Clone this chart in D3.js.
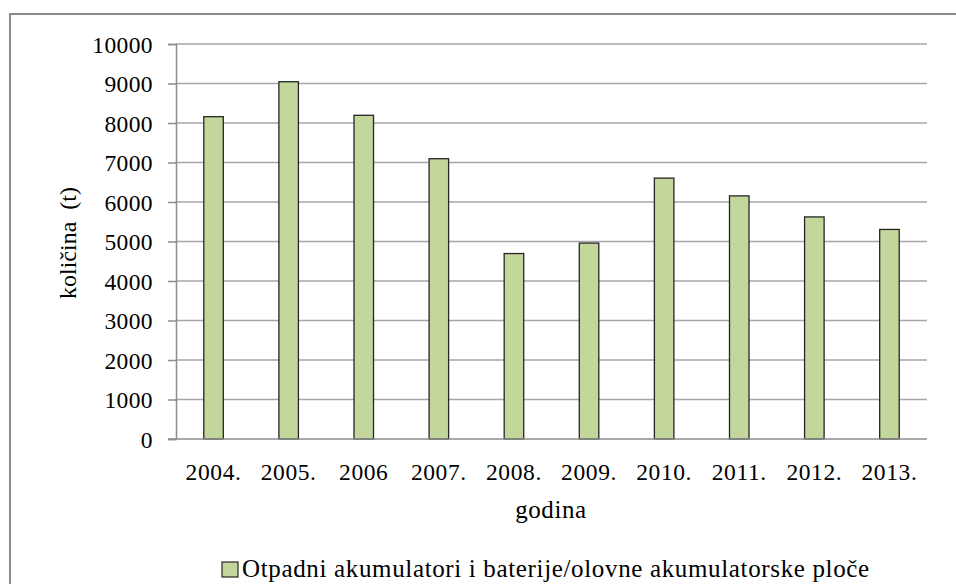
<!DOCTYPE html>
<html>
<head>
<meta charset="utf-8">
<script src="https://cdn.jsdelivr.net/npm/d3@7"></script>
<style>
  html, body { margin: 0; padding: 0; background: #fff; }
  svg { display: block; }
</style>
</head>
<body>
<script>
const years = ["2004.", "2005.", "2006", "2007.", "2008.", "2009.", "2010.", "2011.", "2012.", "2013."];
const values = [8160, 9045, 8195, 7096, 4695, 4960, 6605, 6155, 5622, 5305];
const yTicks = [0, 1000, 2000, 3000, 4000, 5000, 6000, 7000, 8000, 9000, 10000];
const seriesName = "Otpadni akumulatori i baterije/olovne akumulatorske ploče";
const yTitle = "količina  (t)";
const xTitle = "godina";

const FONT = '"Liberation Serif", "Times New Roman", serif';
const W = 956, H = 584;
const svg = d3.select("body").append("svg").attr("width", W).attr("height", H);

// outer chart border (cropped at right/bottom)
svg.append("rect")
  .attr("x", 10).attr("y", 14)
  .attr("width", W + 20).attr("height", H + 20)
  .attr("fill", "#fff").attr("stroke", "#8a8a8a").attr("stroke-width", 2);

const plot = { left: 176, right: 927, top: 44, bottom: 439 };

const x = d3.scaleBand().domain(years).range([plot.left, plot.right]).paddingInner(0.74).paddingOuter(0.37);
const y = d3.scaleLinear().domain([0, 10000]).range([plot.bottom, plot.top]);

// gridlines
svg.append("g").selectAll("line").data(yTicks.filter(d => d > 0)).join("line")
  .attr("x1", plot.left).attr("x2", plot.right)
  .attr("y1", d => y(d)).attr("y2", d => y(d))
  .attr("stroke", "#a6a6a6").attr("stroke-width", 1.5);

// y axis
const yAxis = svg.append("g").attr("transform", `translate(${plot.left},0)`)
  .call(d3.axisLeft(y).tickValues(yTicks).tickSize(8).tickPadding(15).tickFormat(d3.format("d")));
yAxis.select(".domain").attr("stroke", "#8c8c8c").attr("stroke-width", 1.5);
yAxis.selectAll(".tick line").attr("stroke", "#8c8c8c").attr("stroke-width", 1.5);
yAxis.selectAll(".tick text").style("font-size", "23.5px").style("font-family", FONT)
  .style("letter-spacing", "0.4px").attr("fill", "#000").attr("dy", "0.34em");

// bars
svg.append("g").selectAll("rect").data(values).join("rect")
  .attr("x", (d, i) => x(years[i]))
  .attr("width", x.bandwidth())
  .attr("y", d => y(d))
  .attr("height", d => y(0) - y(d))
  .attr("fill", "#c3d69b")
  .attr("stroke", "#262626").attr("stroke-width", 1.3);

// x axis line
svg.append("line")
  .attr("x1", plot.left - 8).attr("x2", plot.right)
  .attr("y1", y(0)).attr("y2", y(0))
  .attr("stroke", "#8c8c8c").attr("stroke-width", 1.5);

// x tick labels
const xAxis = svg.append("g").attr("transform", `translate(0,${plot.bottom})`)
  .call(d3.axisBottom(x).tickSize(0).tickPadding(0));
xAxis.select(".domain").remove();
xAxis.selectAll(".tick text").style("font-size", "23.5px").style("font-family", FONT)
  .style("letter-spacing", "0.6px").attr("fill", "#000").attr("y", 41).attr("dy", 0);

// axis titles
svg.append("text").attr("x", 551).attr("y", 518).attr("text-anchor", "middle")
  .style("font-family", FONT).style("font-size", "25px").style("letter-spacing", "0.6px").text(xTitle);
svg.append("text").attr("transform", "translate(76,243) rotate(-90)").attr("text-anchor", "middle")
  .style("font-family", FONT).style("font-size", "24px").style("white-space", "pre").text(yTitle);

// legend
svg.append("rect").attr("x", 222).attr("y", 562).attr("width", 16).attr("height", 15)
  .attr("fill", "#c3d69b").attr("stroke", "#262626").attr("stroke-width", 1.2);
svg.append("text").attr("x", 242).attr("y", 577)
  .style("font-family", FONT).style("font-size", "25px").style("letter-spacing", "0.65px").text(seriesName);
</script>
</body>
</html>
